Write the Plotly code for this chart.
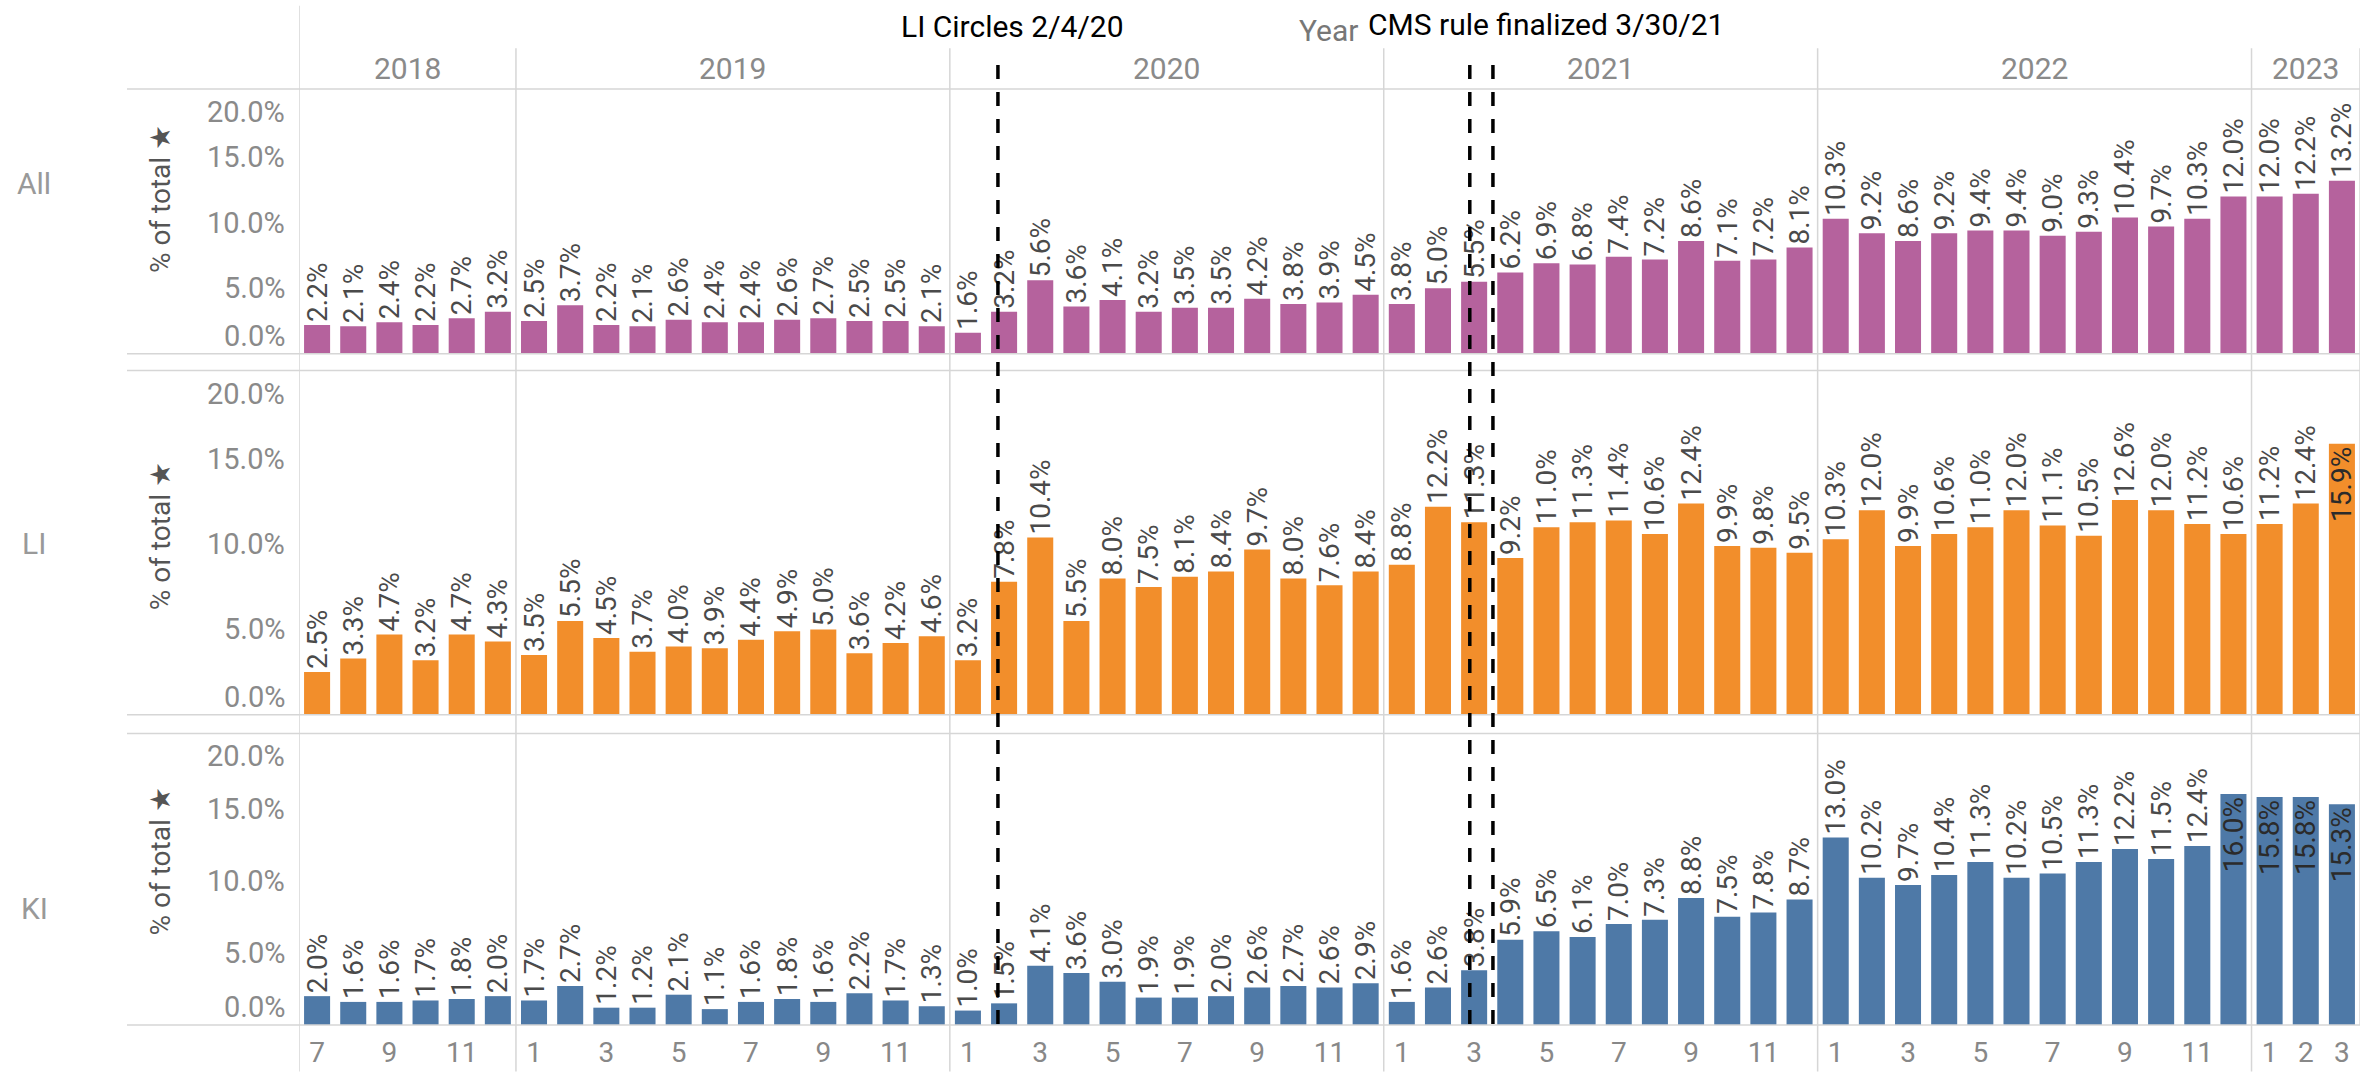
import plotly.graph_objects as go
from plotly.subplots import make_subplots

# monthly share (% of total), Jul 2018 - Mar 2023
years = [2018] * 6 + [2019] * 12 + [2020] * 12 + [2021] * 12 + [2022] * 12 + [2023] * 3
months = list(range(7, 13)) + list(range(1, 13)) * 4 + [1, 2, 3]

all_pct = [2.2, 2.1, 2.4, 2.2, 2.7, 3.2,
           2.5, 3.7, 2.2, 2.1, 2.6, 2.4, 2.4, 2.6, 2.7, 2.5, 2.5, 2.1,
           1.6, 3.2, 5.6, 3.6, 4.1, 3.2, 3.5, 3.5, 4.2, 3.8, 3.9, 4.5,
           3.8, 5.0, 5.5, 6.2, 6.9, 6.8, 7.4, 7.2, 8.6, 7.1, 7.2, 8.1,
           10.3, 9.2, 8.6, 9.2, 9.4, 9.4, 9.0, 9.3, 10.4, 9.7, 10.3, 12.0,
           12.0, 12.2, 13.2]
li_pct = [2.5, 3.3, 4.7, 3.2, 4.7, 4.3,
          3.5, 5.5, 4.5, 3.7, 4.0, 3.9, 4.4, 4.9, 5.0, 3.6, 4.2, 4.6,
          3.2, 7.8, 10.4, 5.5, 8.0, 7.5, 8.1, 8.4, 9.7, 8.0, 7.6, 8.4,
          8.8, 12.2, 11.3, 9.2, 11.0, 11.3, 11.4, 10.6, 12.4, 9.9, 9.8, 9.5,
          10.3, 12.0, 9.9, 10.6, 11.0, 12.0, 11.1, 10.5, 12.6, 12.0, 11.2, 10.6,
          11.2, 12.4, 15.9]
ki_pct = [2.0, 1.6, 1.6, 1.7, 1.8, 2.0,
          1.7, 2.7, 1.2, 1.2, 2.1, 1.1, 1.6, 1.8, 1.6, 2.2, 1.7, 1.3,
          1.0, 1.5, 4.1, 3.6, 3.0, 1.9, 1.9, 2.0, 2.6, 2.7, 2.6, 2.9,
          1.6, 2.6, 3.8, 5.9, 6.5, 6.1, 7.0, 7.3, 8.8, 7.5, 7.8, 8.7,
          13.0, 10.2, 9.7, 10.4, 11.3, 10.2, 10.5, 11.3, 12.2, 11.5, 12.4, 16.0,
          15.8, 15.8, 15.3]

rows = ["All", "LI", "KI"]
colors = ["#b5629d", "#f28e2b", "#4e79a7"]
y_ticks = [0, 5, 10, 15, 20]

events = ["LI Circles 2/4/20", "CMS rule finalized 3/30/21"]
event_lines = [18.83, 31.88, 32.52]  # hand-drawn dashed markers, in month slots

W, H = 2371, 1080
L, R, T, B = 299, 2360, 89, 1033


def px_x(p):
    return (p - L) / (R - L)


def px_y(p):
    return (B - p) / (B - T)


def label(x, y, text, size, color, xref="paper", yref="paper", **kw):
    d = dict(x=x, y=y, xref=xref, yref=yref, text=text, showarrow=False,
             xanchor="center", yanchor="middle",
             font=dict(family=kw.pop("family", "Roboto"), size=size, color=color))
    d.update(kw)
    return d


idx = list(range(len(months)))
fig = make_subplots(rows=3, cols=1, shared_xaxes=True)

for r, (vals, col) in enumerate(zip([all_pct, li_pct, ki_pct], colors), start=1):
    pos = ["inside" if v >= 14.5 else "outside" for v in vals]
    fig.add_trace(go.Bar(
        x=idx, y=vals, marker_color=col, marker_line_width=0,
        text=[f"{v:.1f}%" for v in vals], textposition=pos, textangle=-90,
        insidetextanchor="end", constraintext="none", cliponaxis=False,
        outsidetextfont=dict(family="Roboto", size=28, color="#4a4a4a"),
        insidetextfont=dict(family="Roboto", size=28, color="#2b2b2b"),
        hoverinfo="skip", showlegend=False,
    ), row=r, col=1)

domains = [[px_y(356), 1], [px_y(720), px_y(373)], [0, px_y(739)]]
for r in range(1, 4):
    fig.update_yaxes(range=[0, 20.2], domain=domains[r - 1], showticklabels=False,
                     showgrid=False, zeroline=False, showline=False, row=r, col=1)
    fig.update_xaxes(range=[-0.5, len(idx) - 0.5], showgrid=False, zeroline=False,
                     showline=False, row=r, col=1)

tickvals = [i for i in idx if months[i] % 2 == 1 or years[i] == 2023]
fig.update_xaxes(tickvals=tickvals, ticktext=[str(months[i]) for i in tickvals],
                 ticks="", ticklabelstandoff=8, showticklabels=True,
                 tickfont=dict(family="Roboto", size=28, color="#888"), row=3, col=1)

ann = []
grey = "#8a8a8a"
label_y = [184, 547, 915]
title_y = [200, 540, 868]
for r, name in enumerate(rows, start=1):
    yref = "y" if r == 1 else f"y{r}"
    for v in y_ticks:
        shift = 18 if v == 0 else (-20 if v == 20 else 0)
        ann.append(label(px_x(287), v, f"{v:.1f}%", 29, grey, yref=yref,
                         xanchor="right", yshift=shift))
    ann.append(label(px_x(160), px_y(title_y[r - 1]), "% of total \u2605", 28, "#555",
                     textangle=-90))
    ann.append(label(px_x(34), px_y(label_y[r - 1]), name, 30, "#999"))

for yr in sorted(set(years)):
    members = [i for i in idx if years[i] == yr]
    ann.append(label(sum(members) / len(members), px_y(68), str(yr), 30, grey, xref="x"))

ann.append(label(px_x(1328), px_y(30), "Year", 30, "#777"))
ann.append(label(px_x(1012), px_y(26), events[0], 30, "black",
                 family="Liberation Sans Narrow, Roboto"))
ann.append(label(px_x(1546), px_y(24), events[1], 30, "black",
                 family="Liberation Sans Narrow, Roboto"))

line_col = "#d6d6d6"
shapes = []
# year separators
for i in idx[1:]:
    if years[i] != years[i - 1]:
        shapes.append(dict(type="line", xref="x", yref="paper", x0=i - 0.5, x1=i - 0.5,
                           y0=px_y(H), y1=px_y(48), line=dict(color=line_col, width=1.5)))
shapes.append(dict(type="line", xref="x", yref="paper", x0=-0.5, x1=-0.5,
                   y0=px_y(H), y1=px_y(5), line=dict(color=line_col, width=1.5)))
shapes.append(dict(type="line", xref="x", yref="paper", x0=len(idx) - 0.5, x1=len(idx) - 0.5,
                   y0=px_y(B), y1=px_y(48), line=dict(color=line_col, width=1.5)))
for p in [89, 356, 373, 720, 739, 1033]:
    shapes.append(dict(type="line", xref="paper", yref="paper", x0=px_x(127), x1=1,
                       y0=px_y(p), y1=px_y(p), line=dict(color=line_col, width=1.5)))
for xv in event_lines:
    shapes.append(dict(type="line", xref="x", yref="paper", x0=xv, x1=xv,
                       y0=px_y(1032), y1=px_y(62),
                       line=dict(color="black", width=3.5, dash="14px,13px")))

fig.update_layout(
    width=W, height=H,
    margin=dict(l=L, r=W - R, t=T, b=H - B),
    paper_bgcolor="white", plot_bgcolor="white",
    bargap=0.28, annotations=ann, shapes=shapes,
    font=dict(family="Roboto"),
)

fig.write_html("out.html", config={"displayModeBar": False},
               post_script="document.body.style.margin='0px';")
